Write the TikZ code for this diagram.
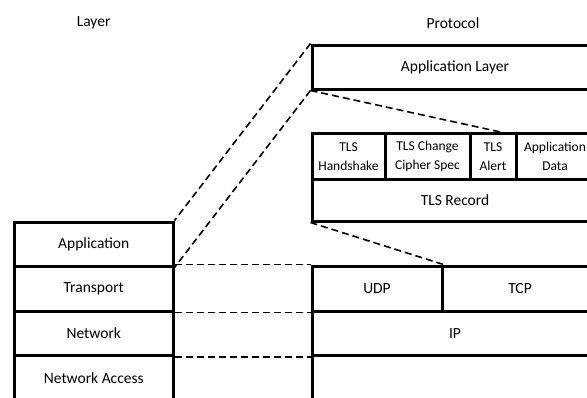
\documentclass[tikz,border=0pt]{standalone}
\usepackage{fontspec}
\setmainfont{Carlito}
\begin{document}
\begin{tikzpicture}[x=1pt,y=-1pt,
  box/.style={draw, line width=3pt, inner sep=0pt, align=center, text=black,
    font=\fontsize{15.5}{18}\selectfont},
  sbox/.style={box, font=\fontsize{13.5}{19}\selectfont},
  lbl/.style={inner sep=0pt, text=black, font=\fontsize{15.5}{18}\selectfont},
  dline/.style={line width=1.6pt, dash pattern=on 7pt off 4pt}]
\useasboundingbox (0,0) rectangle (587,397);
\clip (0,0) rectangle (587,397);
% headings
\node[lbl] (layer) at (93.6,23) {Layer};
\node[lbl] (protocol) at (453,23) {Protocol};
% left stack
\node[box, minimum width=158.5pt, minimum height=44pt] (lapp) at (93.75,244) {Application};
\node[box, minimum width=158.5pt, minimum height=45pt] (ltra) at (93.75,288.5) {Transport};
\node[box, minimum width=158.5pt, minimum height=44.5pt] (lnet) at (93.75,333.25) {Network};
\node[box, minimum width=158.5pt, minimum height=45pt] (lacc) at (93.75,378) {Network Access};
% right stack
\node[box, minimum width=286pt, minimum height=44pt] (rapp) at (455,67) {Application Layer};
\node[sbox, minimum width=73pt, minimum height=46.5pt] (hs) at (348.5,156.25) {TLS\\Handshake};
\node[sbox, minimum width=85pt, minimum height=46.5pt] (ccs) at (427.5,156.25) {TLS Change\\Cipher Spec};
\node[sbox, minimum width=46pt, minimum height=46.5pt] (alert) at (493,156.25) {TLS\\Alert};
\node[sbox, minimum width=78pt, minimum height=46.5pt] (adata) at (555,156.25) {Application\\Data};
\node[box, minimum width=286pt, minimum height=41.5pt] (rec) at (455,200.25) {TLS Record};
\node[box, minimum width=130pt, minimum height=45pt] (udp) at (377,288.5) {UDP};
\node[box, minimum width=156pt, minimum height=45pt] (tcp) at (520,288.5) {TCP};
\node[box, minimum width=286pt, minimum height=44.5pt] (ip) at (455,333.25) {IP};
\node[box, minimum width=286pt, minimum height=45pt] (racc) at (455,378) {};
% connectors
\coordinate (tlstop) at (505,133);
\draw[dline] (rapp.north west) -- (lapp.north east);
\draw[dline] (rapp.south west) -- (lapp.south east);
\draw[dline] (rapp.south west) -- (tlstop);
\draw[dline] (rec.south west) -- (udp.north east);
\draw[dline] (ltra.north east) -- (udp.north west);
\draw[dline] (ltra.south east) -- (udp.south west);
\draw[dline] (lnet.south east) -- (ip.south west);
\end{tikzpicture}
\end{document}
